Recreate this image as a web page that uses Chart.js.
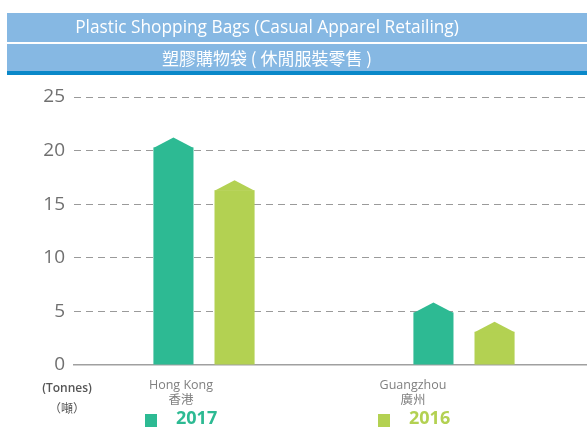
<!DOCTYPE html>
<html>
<head>
<meta charset="utf-8">
<script src="https://cdn.jsdelivr.net/npm/chart.js@4.4.0/dist/chart.umd.min.js"></script>
<style>
  body { margin: 0; width: 587px; height: 428px; overflow: hidden; background: #fff; position: relative; font-family: "Open Sans", sans-serif; }
  #wrap { position: absolute; left: 0; top: 0; width: 587px; height: 428px; overflow: hidden; }
  #chart { position: absolute; left: 0; top: 0; }
  .band { position: absolute; left: 7px; width: 600px; background: #86b8e3; color: #fff; }
  .band span { position: absolute; left: 0; width: 520px; text-align: center; }
  #b1 { top: 13px; height: 29px; }
  #b1 span { top: 2px; font-size: 17.3px; }
  #b2 { top: 44px; height: 27px; border-bottom: 4px solid #0a88c9; }
  #b2 span { top: 1px; font-size: 17px; font-family: "Noto Sans CJK TC", sans-serif; }
</style>
</head>
<body>
<div id="wrap">
  <canvas id="chart" width="600" height="428"></canvas>
  <div class="band" id="b1"><span>Plastic Shopping Bags (Casual Apparel Retailing)</span></div>
  <div class="band" id="b2"><span>塑膠購物袋 ( 休閒服裝零售 )</span></div>
</div>
<script>
const categories = ["Hong Kong", "Guangzhou"];
const categoriesZh = ["香港", "廣州"];
const values2017 = [20.3, 4.9];
const values2016 = [16.3, 3.1];
const yTicks = [0, 5, 10, 15, 20, 25];

const green17 = "#2dba93";
const green16 = "#b3d152";

// pointed roof on each bar + category labels + legend
const roofPlugin = {
  id: "roof",
  afterDatasetsDraw(chart) {
    const ctx = chart.ctx;
    chart.data.datasets.forEach((ds, i) => {
      chart.getDatasetMeta(i).data.forEach((bar) => {
        const w = bar.width;
        ctx.save();
        ctx.fillStyle = ds.backgroundColor;
        ctx.beginPath();
        ctx.moveTo(bar.x - w / 2, bar.y + 0.5);
        ctx.lineTo(bar.x, bar.y - 10);
        ctx.lineTo(bar.x + w / 2, bar.y + 0.5);
        ctx.closePath();
        ctx.fill();
        ctx.restore();
      });
    });
  },
  afterDraw(chart) {
    const ctx = chart.ctx;
    const x = chart.scales.x;
    const bottom = chart.chartArea.bottom;
    const nudge = [-23, -51];
    ctx.save();
    ctx.textAlign = "center";
    ctx.textBaseline = "top";
    ctx.fillStyle = "#808080";
    categories.forEach((c, i) => {
      const px = x.getPixelForValue(i) + nudge[i];
      ctx.font = "12.5px 'Open Sans'";
      ctx.fillText(c, px, bottom + 14);
      ctx.font = "12.5px 'Noto Sans CJK TC'";
      ctx.fillText(categoriesZh[i], px, bottom + 28);
    });
    // unit label
    ctx.fillStyle = "#555";
    ctx.font = "600 12px 'Open Sans'";
    ctx.fillText("(Tonnes)", 67, bottom + 18);
    ctx.font = "12px 'Noto Sans CJK TC'";
    ctx.fillText("（噸）", 67, bottom + 37);

    // legend
    const legendX = [145, 378];
    chart.data.datasets.forEach((ds, i) => {
      ctx.fillStyle = ds.backgroundColor;
      ctx.fillRect(legendX[i], bottom + 49, 12, 13);
      ctx.font = "bold 18px 'Open Sans'";
      ctx.textAlign = "left";
      ctx.fillText(ds.label, legendX[i] + 31, bottom + 45);
    });
    ctx.restore();
  }
};

new Chart(document.getElementById("chart"), {
  type: "bar",
  data: {
    labels: categories,
    datasets: [
      { label: "2017", data: values2017, backgroundColor: green17 },
      { label: "2016", data: values2016, backgroundColor: green16 }
    ]
  },
  options: {
    responsive: false,
    animation: false,
    categoryPercentage: 0.47,
    barPercentage: 0.656,
    layout: { padding: { top: 97, right: 6, bottom: 63, left: 0 } },
    plugins: { legend: { display: false }, tooltip: { enabled: false } },
    scales: {
      x: {
        grid: { display: false },
        border: { display: true, color: "#a0a0a0", width: 1.5 },
        ticks: { display: false },
        afterFit: (s) => { s.height = 0; }
      },
      y: {
        min: 0,
        max: 25,
        afterBuildTicks: (s) => { s.ticks = yTicks.map((v) => ({ value: v })); },
        grid: {
          color: (c) => (c.tick.value === 0 ? "rgba(0,0,0,0)" : "#9a9a9a"),
          drawTicks: false,
          lineWidth: 1
        },
        border: { display: false, dash: [7, 5] },
        ticks: {
          color: "#707070",
          padding: 9,
          font: { family: "Open Sans", size: 19 }
        },
        afterFit: (s) => { s.width = 74; }
      }
    }
  },
  plugins: [roofPlugin]
});
</script>
</body>
</html>
